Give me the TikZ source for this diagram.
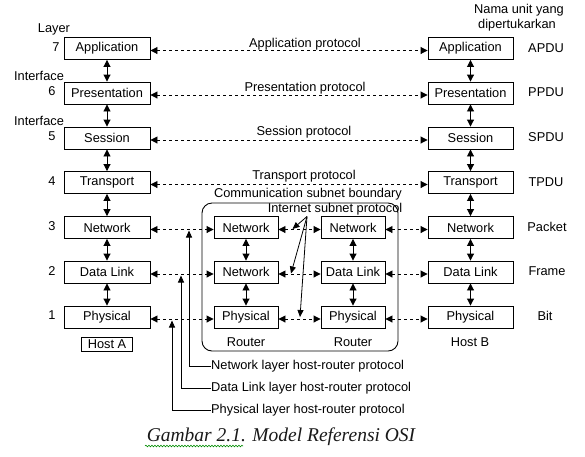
\documentclass[tikz,border=0pt]{standalone}
\usepackage{fontspec}
\setmainfont{Liberation Sans}
\newfontfamily\capfont{Liberation Serif}
\usetikzlibrary{arrows.meta,decorations.pathmorphing}
\newcommand{\lbl}{\fontsize{12.8}{14}\selectfont}
\begin{document}
\begin{tikzpicture}[x=1pt,y=-1pt,
  lw/.style={line width=0.9pt},
  box/.style={draw,lw,minimum height=22pt,inner sep=0pt,font=\lbl},
  hbox/.style={box,minimum width=86pt},
  rbox/.style={box,minimum width=64pt},
  txt/.style={font=\lbl,inner sep=0pt},
  darr/.style={lw,{Triangle[length=7pt,width=7pt]}-{Triangle[length=7pt,width=7pt]}},
  dsh/.style={darr,dash pattern=on 3pt off 3pt},
  sarr/.style={lw,-{Triangle[length=7pt,width=6pt]}},
  thin1/.style={line width=0.8pt,-{Triangle[length=7pt,width=6pt]}}
]
\useasboundingbox (0,0) rectangle (585,456);
% Host A
\node[hbox] (a7) at (107,48.5) {Application};
\node[hbox] (a6) at (107,93) {Presentation};
\node[hbox] (a5) at (107,138) {Session};
\node[hbox] (a4) at (107,182.5) {Transport};
\node[hbox] (a3) at (107,227.5) {Network};
\node[hbox] (a2) at (107,272) {Data Link};
\node[hbox] (a1) at (107,317) {Physical};
% Host B
\node[hbox,minimum width=85pt] (b7) at (470.5,48.5) {Application};
\node[hbox,minimum width=85pt] (b6) at (470.5,93) {Presentation};
\node[hbox,minimum width=85pt] (b5) at (470.5,138) {Session};
\node[hbox,minimum width=85pt] (b4) at (470.5,182.5) {Transport};
\node[hbox,minimum width=85pt] (b3) at (470.5,227.5) {Network};
\node[hbox,minimum width=85pt] (b2) at (470.5,272) {Data Link};
\node[hbox,minimum width=85pt] (b1) at (470.5,317) {Physical};
% Routers
\node[rbox] (p3) at (246,227.5) {Network};
\node[rbox] (p2) at (246,272) {Network};
\node[rbox] (p1) at (246,317) {Physical};
\node[rbox] (q3) at (353,227.5) {Network};
\node[rbox] (q2) at (353,272) {Data Link};
\node[rbox] (q1) at (353,317) {Physical};
% subnet boundary
\draw[lw,rounded corners=10pt] (202,203) rectangle (398,351);
% vertical arrows
\foreach \c in {a,b}{
  \draw[darr] (\c7) -- (\c6);
  \draw[darr] (\c6) -- (\c5);
  \draw[darr] (\c5) -- (\c4);
  \draw[darr] (\c4) -- (\c3);
  \draw[darr] (\c3) -- (\c2);
  \draw[darr] (\c2) -- (\c1);
}
\foreach \c in {p,q}{
  \draw[darr] (\c3) -- (\c2);
  \draw[darr] (\c2) -- (\c1);
}
% peer protocols
\foreach \k in {7,6,5,4}{
  \draw[dsh] ([yshift=-2pt]a\k.east) -- ([yshift=-2pt]b\k.west);
}
\foreach \k in {3,2,1}{
  \draw[dsh] ([yshift=-2pt]a\k.east) -- ([yshift=-2pt]p\k.west);
  \draw[dsh] ([yshift=-2pt]p\k.east) -- ([yshift=-2pt]q\k.west);
  \draw[dsh] ([yshift=-2pt]q\k.east) -- ([yshift=-2pt]b\k.west);
}
% labels
\node[txt] (lay) at (54,29) {Layer};
\node[txt] (n7) at (56,47) {7};
\node[txt] (if1) at (39,76) {Interface};
\node[txt] (n6) at (52,91) {6};
\node[txt] (if2) at (39,121) {Interface};
\node[txt] (n5) at (52,136) {5};
\node[txt] (n4) at (52,181) {4};
\node[txt] (n3) at (52,226) {3};
\node[txt] (n2) at (52,271) {2};
\node[txt] (n1) at (52,315) {1};
\node[txt] (nu1) at (519,10) {Nama unit yang};
\node[txt] (nu2) at (517,25) {dipertukarkan};
\node[txt] (u7) at (546,48) {APDU};
\node[txt] (u6) at (546,92) {PPDU};
\node[txt] (u5) at (546,137) {SPDU};
\node[txt] (u4) at (546,182) {TPDU};
\node[txt] (u3) at (547,227) {Packet};
\node[txt] (u2) at (547,271) {Frame};
\node[txt] (u1) at (545,316) {Bit};
\node[txt] (pr7) at (305,44) {Application protocol};
\node[txt] (pr6) at (305,88) {Presentation protocol};
\node[txt] (pr5) at (304,132) {Session protocol};
\node[txt] (pr4) at (304,176) {Transport protocol};
\node[txt] (csb) at (308,194) {Communication subnet boundary};
\node[txt] (isp) at (335,209) {Internet subnet protocol};
\node[txt] (r1) at (246,342) {Router};
\node[txt] (r2) at (353,342) {Router};
\node[txt] (hb) at (470,342) {Host B};
\node[txt,draw,lw,minimum width=51pt,minimum height=14pt] (ha) at (107,344) {Host A};
% internet subnet protocol arrows
\coordinate (io) at (307,216.5);
\coordinate (it3) at (292.5,229);
\coordinate (it2) at (291,273.5);
\coordinate (it1) at (300,317);
\draw[thin1] (io) -- (it3);
\draw[thin1] (io) -- (it2);
\draw[thin1] (io) -- (it1);
% host-router protocols
\node[txt,anchor=west] (hn) at (211,366) {Network layer host-router protocol};
\node[txt,anchor=west] (hd) at (211,388) {Data Link layer host-router protocol};
\node[txt,anchor=west] (hp) at (211,410) {Physical layer host-router protocol};
\coordinate (tn) at (189,230.5);
\coordinate (td) at (181,275.5);
\coordinate (tp) at (172,320.5);
\draw[sarr] (hn.west) -| (tn);
\draw[sarr] (hd.west) -| (td);
\draw[sarr] (hp.west) -| (tp);
% caption
\node[inner sep=0pt,font=\capfont\itshape\fontsize{19.5}{22}\selectfont,color=black!90] (cap) at (281,437) {Gambar 2.1. Model Referensi OSI};
\draw[green!55!black,line width=0.6pt,decorate,decoration={snake,amplitude=0.8pt,segment length=3pt}] (145,446) -- (243,446);
\end{tikzpicture}
\end{document}
